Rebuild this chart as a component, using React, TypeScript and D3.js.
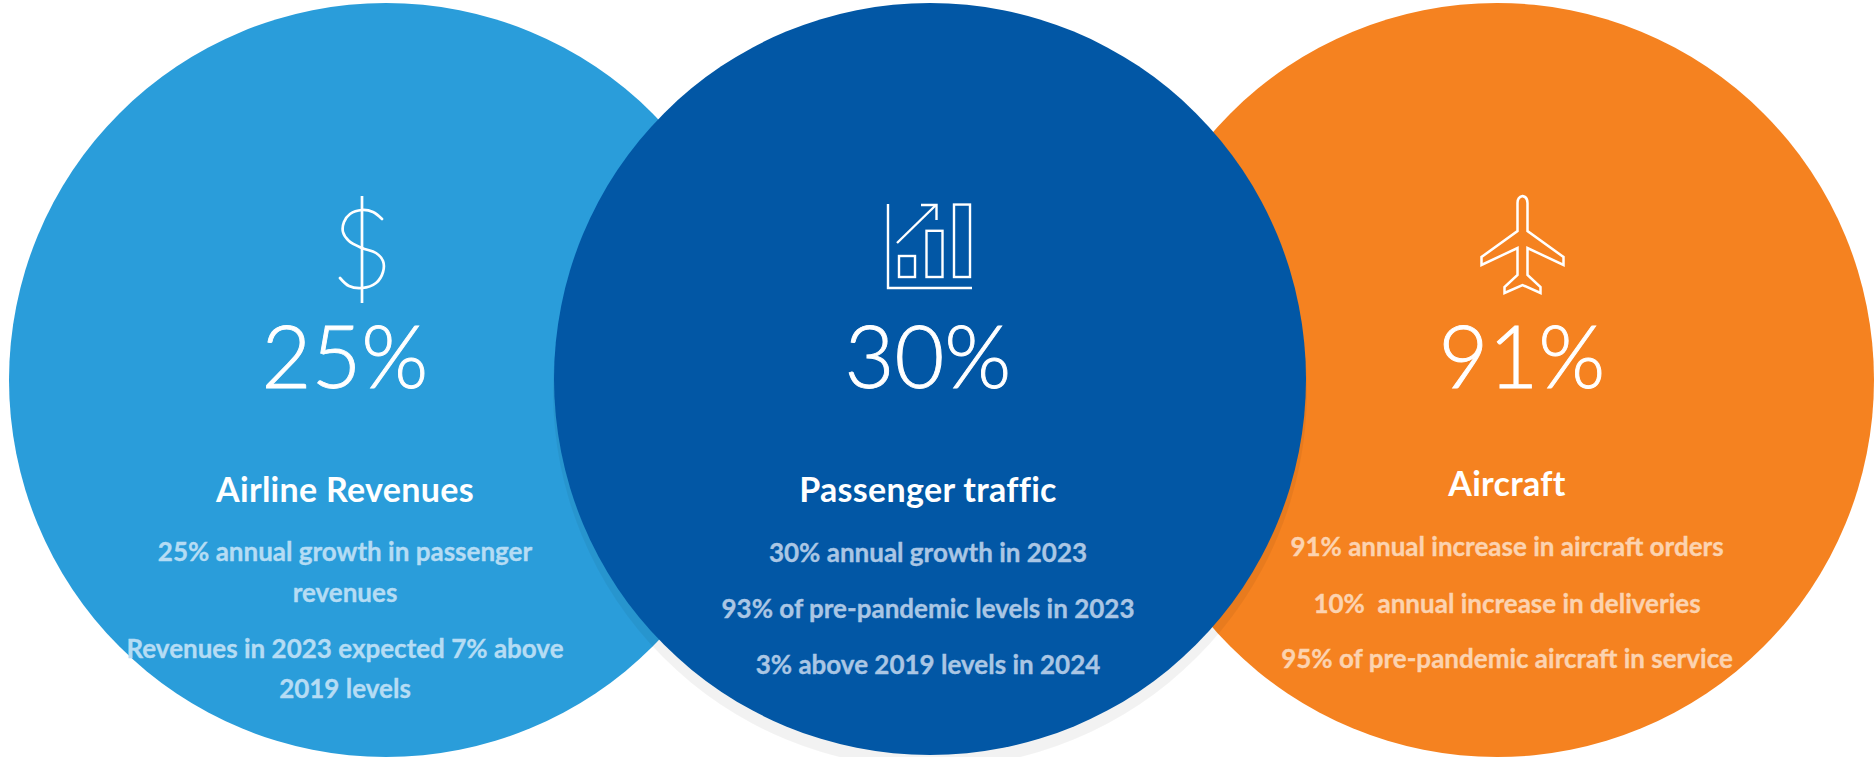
import React from "react";
import * as d3 from "d3";

const percentages = ["25%", "30%", "91%"];
const titles = ["Airline Revenues", "Passenger traffic", "Aircraft"];
const leftLines = ["25% annual growth in passenger", "revenues", "Revenues in 2023 expected 7% above", "2019 levels"];
const middleLines = ["30% annual growth in 2023", "93% of pre-pandemic levels in 2023", "3% above 2019 levels in 2024"];
const rightLines = ["91% annual increase in aircraft orders", "10%  annual increase in deliveries", "95% of pre-pandemic aircraft in service"];
const iconBars = [1, 2.2, 3.45];

const W = 1875, H = 757, R = 377, CY = 380;
const FONT = "Lato, Carlito, sans-serif";
const line = d3.line<[number, number]>();
const smooth = d3.line<[number, number]>().curve(d3.curveCatmullRom.alpha(0.5));

function Dollar() {
  const s: [number, number][] = [[382, 219], [373, 212], [362, 210], [350, 214], [344, 222], [343, 232], [349, 241], [362, 248], [376, 253], [383, 261], [383, 272], [376, 283], [362, 288], [349, 286], [340, 278]];
  return <g fill="none" stroke="#fff" strokeWidth={2.7}>
    <path d={line([[362, 196], [362, 303]])!} />
    <path d={smooth(s)!} strokeLinecap="round" />
  </g>;
}

function ChartIcon() {
  const xs = d3.scaleBand<number>().domain(d3.range(iconBars.length)).range([899, 970]).paddingInner(0.418);
  const h = d3.scaleLinear().domain([0, 1]).range([0, 21]);
  return <g fill="none" stroke="#fff" strokeWidth={2.4}>
    <path d={line([[888, 204], [888, 288], [972, 288]])!} />
    {iconBars.map((v, i) => <rect key={i} x={xs(i)!} y={277 - h(v)} width={xs.bandwidth()} height={h(v)} />)}
    <path d={line([[897, 243], [936, 205]])!} />
    <path d={line([[921, 205], [936.5, 205], [936.5, 220]])!} />
  </g>;
}

function Plane() {
  const half: [number, number][] = [[1527.5, 203], [1527.5, 231], [1563.5, 257], [1563.5, 265], [1527.5, 248], [1527.5, 275], [1540.5, 287], [1540.5, 293], [1522.5, 285]];
  const mirror = half.slice(0, -1).reverse().map(([x, y]) => [2 * 1522.5 - x, y] as [number, number]);
  const d = "M1522.5,196 Q1527.5,197 1527.5,203 " + line(half.slice(1))!.replace("M", "L") + " " + line(mirror)!.replace("M", "L") + " Q1517.5,197 1522.5,196Z";
  return <path d={d} fill="none" stroke="#fff" strokeWidth={2.5} strokeLinejoin="miter" />;
}

function Block({ cx, pctX, pct, title, titleY, lines, ys, color, pctY }: any) {
  return <g fontFamily={FONT} textAnchor="middle">
    <text x={pctX} y={pctY} fontSize={86} fontWeight={300} fill="#fff" stroke="#fff" strokeWidth={0.9}>{pct}</text>
    <text x={cx} y={titleY} fontSize={34} fontWeight={700} letterSpacing={0.3} fill="#fff">{title}</text>
    {lines.map((t: string, i: number) => <text key={i} x={cx} y={ys[i]} fontSize={26} fontWeight={700} fill={color} stroke={color} strokeWidth={0.35} style={{ whiteSpace: "pre" }}>{t}</text>)}
  </g>;
}

export default function App() {
  return <svg width={W} height={H} viewBox={`0 0 ${W} ${H}`} style={{ position: "absolute", left: 0, top: 0, display: "block" }}>
    <rect width={W} height={H} fill="#fff" />
    <circle cx={386} cy={CY} r={R} fill="#2a9dda" />
    <circle cx={1497} cy={CY} r={R} fill="#f58220" />
    <circle cx={930} cy={CY + 11} r={R} fill="#000" fillOpacity={0.05} />
    <circle cx={930} cy={CY - 1} r={376} fill="#0257a5" />
    <Dollar /><ChartIcon /><Plane />
    <Block cx={345} pctX={345} pctY={388} pct={percentages[0]} title={titles[0]} titleY={502} lines={leftLines} ys={[561, 602, 658, 698]} color="#b5dcf4" />
    <Block cx={928} pctX={928} pctY={388} pct={percentages[1]} title={titles[1]} titleY={502} lines={middleLines} ys={[562, 618, 674]} color="#aac6e4" />
    <Block cx={1507} pctX={1522} pctY={388} pct={percentages[2]} title={titles[2]} titleY={496} lines={rightLines} ys={[556, 613, 668]} color="#fcd3b0" />
  </svg>;
}
